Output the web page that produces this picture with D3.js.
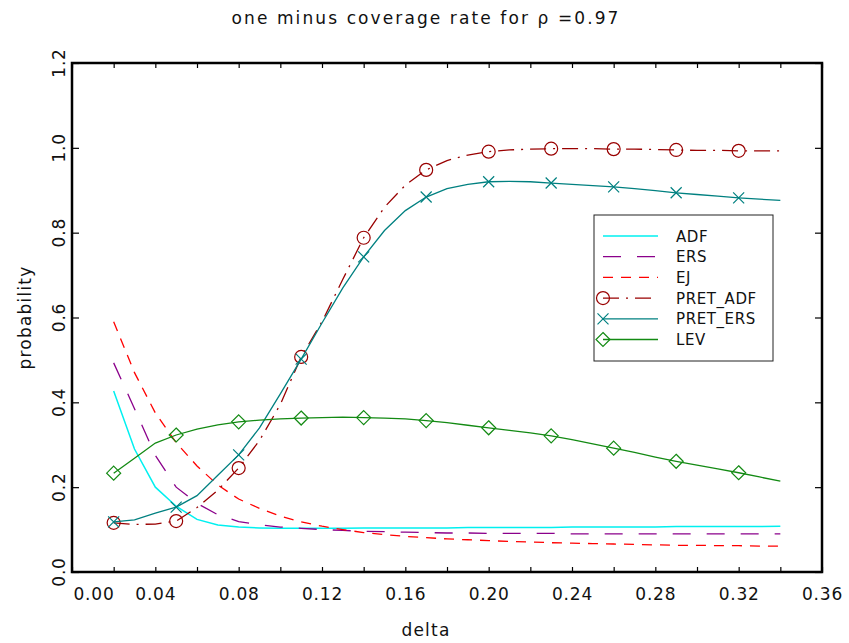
<!DOCTYPE html>
<html>
<head>
<meta charset="utf-8">
<script src="https://cdn.jsdelivr.net/npm/d3@7/dist/d3.min.js"></script>
<style>
  html, body { margin: 0; padding: 0; background: #fff; }
  svg { display: block; }
  text { font-family: "DejaVu Sans", "Liberation Sans", sans-serif; fill: #111; }
</style>
</head>
<body>
<svg id="chart" width="849" height="643"></svg>
<script>
// delta grid shared by every series
const delta = [0.02,0.03,0.04,0.05,0.06,0.07,0.08,0.09,0.10,0.11,0.12,0.13,0.14,0.15,0.16,0.17,
               0.18,0.19,0.20,0.21,0.22,0.23,0.24,0.25,0.26,0.27,0.28,0.29,0.30,0.31,0.32,0.33,0.34];

const adf = [0.427,0.290,0.200,0.155,0.124,0.111,0.106,0.104,0.103,0.103,0.103,0.103,0.104,0.104,0.104,0.104,
             0.104,0.105,0.105,0.105,0.105,0.105,0.106,0.106,0.106,0.106,0.106,0.107,0.107,0.107,0.107,0.107,0.108];
const ers = [0.493,0.385,0.275,0.200,0.162,0.135,0.119,0.111,0.106,0.103,0.100,0.098,0.096,0.095,0.094,0.093,
             0.092,0.092,0.091,0.091,0.091,0.091,0.090,0.090,0.090,0.090,0.090,0.090,0.090,0.090,0.090,0.090,0.090];
const ej = [0.590,0.470,0.375,0.305,0.250,0.205,0.172,0.150,0.132,0.118,0.108,0.100,0.093,0.088,0.084,0.081,
            0.078,0.076,0.074,0.072,0.071,0.069,0.068,0.067,0.066,0.065,0.064,0.063,0.063,0.062,0.062,0.061,0.061];
const pretAdf = [0.116,0.112,0.113,0.120,0.152,0.193,0.245,0.310,0.395,0.507,0.590,0.690,0.788,0.860,0.912,0.948,
                 0.970,0.983,0.991,0.995,0.997,0.998,0.998,0.998,0.997,0.997,0.996,0.995,0.994,0.994,0.993,0.993,0.993];
const pretErs = [0.118,0.123,0.139,0.153,0.180,0.228,0.276,0.340,0.420,0.502,0.587,0.670,0.743,0.805,0.852,0.884,
                 0.904,0.914,0.920,0.921,0.920,0.917,0.914,0.911,0.908,0.904,0.899,0.894,0.890,0.886,0.882,0.879,0.876];
const lev = [0.233,0.268,0.304,0.323,0.337,0.347,0.354,0.358,0.361,0.363,0.364,0.365,0.364,0.363,0.361,0.357,
             0.352,0.346,0.340,0.334,0.328,0.321,0.312,0.302,0.292,0.282,0.271,0.261,0.252,0.243,0.234,0.224,0.214];

// symbols are placed on every third grid point
const markerDelta = [0.02,0.05,0.08,0.11,0.14,0.17,0.20,0.23,0.26,0.29,0.32];

const xTicks = [0.00,0.02,0.04,0.06,0.08,0.10,0.12,0.14,0.16,0.18,0.20,0.22,0.24,0.26,0.28,0.30,0.32,0.34,0.36];
const xTickLabels = [0.00,0.04,0.08,0.12,0.16,0.20,0.24,0.28,0.32,0.36];
const yTicks = [0.0,0.2,0.4,0.6,0.8,1.0,1.2];

const seriesNames = ["ADF","ERS","EJ","PRET_ADF","PRET_ERS","LEV"];

const series = [
  {name: "ADF",      values: adf,     color: "#00f0f0", dash: null,       width: 1.5, marker: null},
  {name: "ERS",      values: ers,     color: "#8b008b", dash: "18,16",    width: 1.3, marker: null},
  {name: "EJ",       values: ej,      color: "#ff0000", dash: "10,8",     width: 1.3, marker: null},
  {name: "PRET_ADF", values: pretAdf, color: "#990000", dash: "16,7,2,7", width: 1.3, marker: "circle"},
  {name: "PRET_ERS", values: pretErs, color: "#008080", dash: null,       width: 1.3, marker: "x"},
  {name: "LEV",      values: lev,     color: "#138a13", dash: null,       width: 1.3, marker: "diamond"}
];

const svg = d3.select("#chart");
const plotL = 72, plotR = 822, plotT = 63, plotB = 572;

const x = d3.scaleLinear().domain([0, 0.36]).range([plotL, plotR]);
const y = d3.scaleLinear().domain([0, 1.2]).range([plotB, plotT]);

// title
svg.append("text")
  .attr("x", 426).attr("y", 24)
  .attr("text-anchor", "middle")
  .style("font-size", "17px").style("letter-spacing", "2.1px")
  .text("one minus coverage rate for \u03c1 =0.97");

// axes: ticks point inward on all four sides
const fmt = d3.format(".2f");
const labelSet = new Set(xTickLabels.map(fmt));

const xb = svg.append("g").attr("transform", `translate(0,${plotB})`)
  .call(d3.axisBottom(x).tickValues(xTicks).tickSizeInner(-5).tickSizeOuter(0).tickPadding(16)
        .tickFormat(d => labelSet.has(fmt(d)) ? fmt(d) : ""));
xb.select(".domain").remove();
xb.selectAll("line").attr("stroke", "#000").attr("stroke-width", 1.2);
xb.selectAll("text").style("font-size", "17px").style("letter-spacing", "0.8px")
  .style("font-family", "DejaVu Sans, sans-serif").attr("fill", "#111");
// the first label sits just right of the axis corner
xb.selectAll("text").filter(d => d === 0).attr("text-anchor", "start").attr("x", 1);

const xt = svg.append("g").attr("transform", `translate(0,${plotT})`)
  .call(d3.axisTop(x).tickValues(xTicks).tickSizeInner(-5).tickSizeOuter(0).tickFormat(""));
xt.select(".domain").remove();
xt.selectAll("line").attr("stroke", "#000").attr("stroke-width", 1.2);

const yl = svg.append("g").attr("transform", `translate(${plotL},0)`)
  .call(d3.axisLeft(y).tickValues(yTicks).tickSizeInner(-7).tickSizeOuter(0).tickFormat(""));
yl.select(".domain").remove();
yl.selectAll("line").attr("stroke", "#000").attr("stroke-width", 1.2);

const yr = svg.append("g").attr("transform", `translate(${plotR},0)`)
  .call(d3.axisRight(y).tickValues(yTicks).tickSizeInner(-7).tickSizeOuter(0).tickFormat(""));
yr.select(".domain").remove();
yr.selectAll("line").attr("stroke", "#000").attr("stroke-width", 1.2);

// rotated y tick labels
svg.append("g").selectAll("text").data(yTicks).join("text")
  .attr("transform", d => `translate(65,${y(d)}) rotate(-90)`)
  .attr("text-anchor", "middle")
  .style("font-size", "17px").style("letter-spacing", "0.8px")
  .text(d3.format(".1f"));

// axis titles
svg.append("text")
  .attr("x", 426).attr("y", 636)
  .attr("text-anchor", "middle")
  .style("font-size", "17px").style("letter-spacing", "1.2px")
  .text("delta");
svg.append("text")
  .attr("transform", `translate(31,${(plotT + plotB) / 2}) rotate(-90)`)
  .attr("text-anchor", "middle")
  .style("font-size", "17px").style("letter-spacing", "1.2px")
  .text("probability");

// plot frame
svg.append("rect")
  .attr("x", plotL).attr("y", plotT)
  .attr("width", plotR - plotL).attr("height", plotB - plotT)
  .attr("fill", "none").attr("stroke", "#000").attr("stroke-width", 2.5);

// marker drawing
function drawMarker(g, type, cx, cy, color) {
  if (type === "circle") {
    g.append("circle").attr("cx", cx).attr("cy", cy).attr("r", 6.5)
      .attr("fill", "none").attr("stroke", color).attr("stroke-width", 1.2);
  } else if (type === "x") {
    const s = 5.5;
    g.append("path")
      .attr("d", `M${cx - s},${cy - s}L${cx + s},${cy + s}M${cx - s},${cy + s}L${cx + s},${cy - s}`)
      .attr("stroke", color).attr("stroke-width", 1.2).attr("fill", "none");
  } else if (type === "diamond") {
    const s = 7;
    g.append("path")
      .attr("d", `M${cx},${cy - s}L${cx + s},${cy}L${cx},${cy + s}L${cx - s},${cy}Z`)
      .attr("stroke", color).attr("stroke-width", 1.2).attr("fill", "none");
  }
}

const line = d3.line().x(d => x(d[0])).y(d => y(d[1]));
const plot = svg.append("g");
const markerKeys = new Set(markerDelta.map(fmt));

series.forEach(s => {
  const pts = delta.map((d, i) => [d, s.values[i]]);
  plot.append("path")
    .datum(pts)
    .attr("d", line)
    .attr("fill", "none")
    .attr("stroke", s.color)
    .attr("stroke-width", s.width)
    .attr("stroke-dasharray", s.dash);
  if (s.marker) {
    const mg = plot.append("g");
    pts.filter(p => markerKeys.has(fmt(p[0])))
       .forEach(p => drawMarker(mg, s.marker, x(p[0]), y(p[1]), s.color));
  }
});

// legend
const lg = svg.append("g");
lg.append("rect")
  .attr("x", 594).attr("y", 215).attr("width", 179).attr("height", 146)
  .attr("fill", "#fff").attr("stroke", "#222").attr("stroke-width", 1);

seriesNames.forEach((name, i) => {
  const s = series.find(t => t.name === name);
  const ry = 236 + i * 20.7;
  lg.append("line")
    .attr("x1", 603).attr("x2", 658).attr("y1", ry).attr("y2", ry)
    .attr("stroke", s.color).attr("stroke-width", s.width)
    .attr("stroke-dasharray", s.dash);
  if (s.marker) drawMarker(lg, s.marker, 603, ry, s.color);
  lg.append("text")
    .attr("x", 676).attr("y", ry + 5.5)
    .style("font-size", "15px").style("letter-spacing", "0.6px")
    .text(name);
});
</script>
</body>
</html>
